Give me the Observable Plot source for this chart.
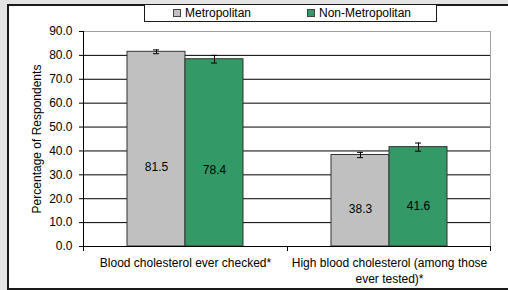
<!DOCTYPE html>
<html><head><meta charset="utf-8">
<script src="https://cdn.jsdelivr.net/npm/d3@7"></script>
<script src="https://cdn.jsdelivr.net/npm/@observablehq/plot@0.6"></script>
<style>
html,body{margin:0;padding:0;background:#e4e4e4;width:508px;height:290px;overflow:hidden;font-family:Arial,"Liberation Sans",sans-serif;}
#frame{position:absolute;left:7px;top:4px;width:520px;height:282px;background:#fff;border:2px solid #1a1a1a;border-right:none;}
#chart{position:absolute;left:0;top:0;}
#legend{position:absolute;left:144px;top:4px;width:291px;height:16px;border:1px solid #1a1a1a;background:#fff;font-size:12px;color:#000;}
#legend .item{position:absolute;top:0;height:16px;line-height:16px;white-space:nowrap;}
#legend .sw{display:inline-block;width:6px;height:6px;border:1px solid #444;margin-right:4px;vertical-align:0px;}
</style></head>
<body>
<div id="frame"></div>
<div id="chart"></div>
<div id="legend"></div>
<script>
const categories = ["Blood cholesterol ever checked*", "High blood cholesterol (among those ever tested)*"];
const tickLabels = ["Blood cholesterol ever checked*", "High blood cholesterol (among those\never tested)*"];
const series = ["Metropolitan", "Non-Metropolitan"];
const metroValues = [81.5, 38.3];
const nonMetroValues = [78.4, 41.6];
const metroErr = [0.8, 1.1];
const nonMetroErr = [1.6, 1.7];
const yTicks = [0, 10, 20, 30, 40, 50, 60, 70, 80, 90];
const colors = ["#c0c0c0", "#339966"];
const yTitle = "Percentage of Respondents";

const data = categories.flatMap((c, i) => [
  {category: c, series: series[0], value: metroValues[i], err: metroErr[i]},
  {category: c, series: series[1], value: nonMetroValues[i], err: nonMetroErr[i]}
]);

const plot = Plot.plot({
  width: 508, height: 290,
  marginLeft: 83, marginRight: 17, marginTop: 31, marginBottom: 44,
  style: {background: "transparent", fontFamily: "Arial, 'Liberation Sans', sans-serif", fontSize: "12px", color: "#000"},
  fx: {domain: categories, padding: 0, axis: null},
  x: {domain: series, paddingInner: 0, paddingOuter: 0.744, axis: null},
  y: {domain: [0, 90], axis: null},
  color: {domain: series, range: colors},
  marks: [
    Plot.ruleY(yTicks.slice(1, -1), {stroke: "#000", strokeWidth: 1}),
    Plot.ruleY([yTicks[yTicks.length - 1]], {stroke: "#a0a0a0", strokeWidth: 1}),
    Plot.barY(data, {fx: "category", x: "series", y: "value", fill: "series", stroke: "#333", strokeWidth: 1}),
    Plot.ruleX(data, {fx: "category", x: "series", y1: d => d.value - d.err, y2: d => d.value + d.err, stroke: "#000"}),
    Plot.tickY(data, {fx: "category", x: "series", y: d => d.value + d.err, insetLeft: 26, insetRight: 26, stroke: "#000"}),
    Plot.tickY(data, {fx: "category", x: "series", y: d => d.value - d.err, insetLeft: 26, insetRight: 26, stroke: "#000"}),
    Plot.text(data, {fx: "category", x: "series", y: d => d.value * 0.41, text: d => d.value.toFixed(1), fontSize: 12, fill: "#000"}),
    Plot.ruleY([0], {stroke: "#000"}),
    Plot.axisY({ticks: yTicks, tickFormat: d => d.toFixed(1), tickSize: 4, tickPadding: 7, fontSize: 12, stroke: "#000",
      label: yTitle, labelAnchor: "center", labelOffset: 51, labelArrow: "none"}),
    Plot.axisFx({anchor: "bottom", tickSize: 0, tickPadding: 9, fontSize: 12, lineHeight: 1.33, label: null,
      tickFormat: d => tickLabels[categories.indexOf(d)]})
  ]
});
document.getElementById("chart").appendChild(plot);

// Frame lines derived from scales
const fx = plot.scale("fx"), y = plot.scale("y");
const [xl, xr] = fx.range;
const y0 = y.apply(0), yT = y.apply(90);
const svg = d3.select(plot);
const g = svg.append("g").attr("shape-rendering", "crispEdges");
g.append("line").attr("x1", xl + 0.5).attr("x2", xl + 0.5).attr("y1", yT).attr("y2", y0 + 0.5).attr("stroke", "#000");
g.append("line").attr("x1", xr - 0.5).attr("x2", xr - 0.5).attr("y1", yT).attr("y2", y0).attr("stroke", "#a0a0a0");
const bounds = categories.map(c => fx.apply(c)).concat([xr]);
bounds.forEach((bx, i) => {
  const px = i === bounds.length - 1 ? bx - 0.5 : bx + 0.5;
  g.append("line").attr("x1", px).attr("x2", px).attr("y1", y0).attr("y2", y0 + 5).attr("stroke", "#000");
});

// Legend from arrays
const lg = document.getElementById("legend");
const itemLeft = [28, 162];
series.forEach((s, i) => {
  const it = document.createElement("div");
  it.className = "item";
  it.style.left = itemLeft[i] + "px";
  it.innerHTML = `<span class="sw" style="background:${colors[i]}"></span>${s}`;
  lg.appendChild(it);
});
</script>
</body></html>
